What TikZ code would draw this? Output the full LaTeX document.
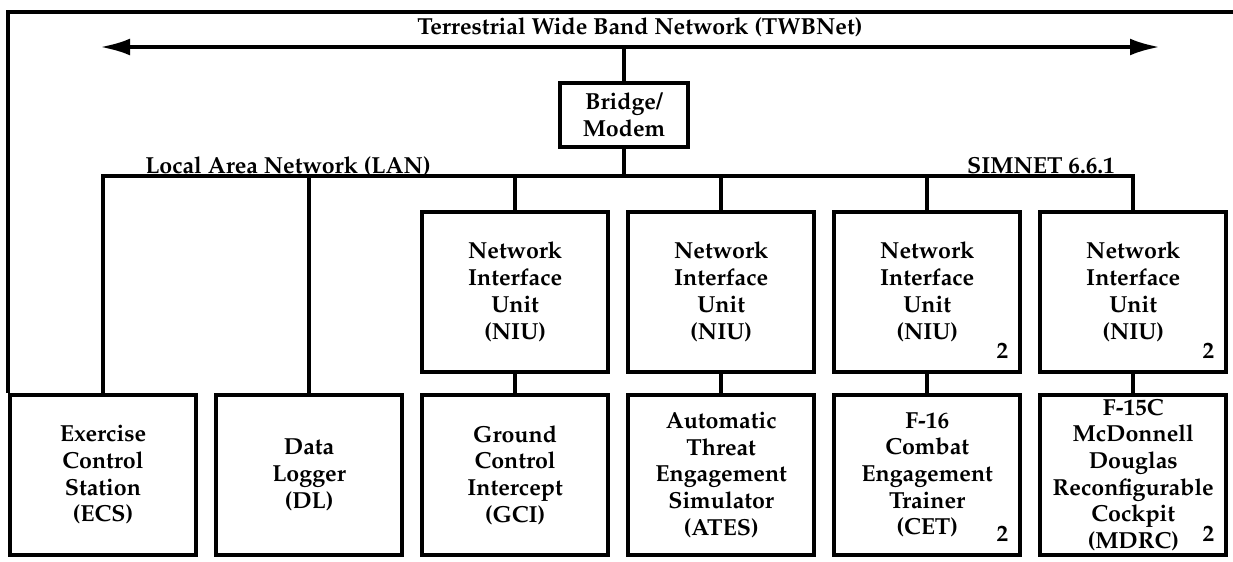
\documentclass[tikz,border=0pt]{standalone}
\usepackage[T1]{fontenc}
\usepackage{mathpazo}
\usetikzlibrary{arrows.meta,positioning}

\begin{document}
\begin{tikzpicture}[x=0.025cm, y=-0.025cm, node distance={51.5mm}, line width=2.8pt,
    main/.style = {draw, rectangle, minimum width=46.5mm, minimum height=40mm, inner sep=0pt, align=center, font=\fontsize{16.5}{19}\selectfont\bfseries},
    lbl/.style = {inner sep=0pt, font=\fontsize{16.5}{19}\selectfont\bfseries}]
        \useasboundingbox (0,0) rectangle (1233,561);
        \node[main] (ECS) at (103,475) {Exercise\\Control\\Station\\(ECS)};
        \node[main] (DL) [right of=ECS] {Data\\Logger\\(DL)};
        \node[main] (GCI) [right of=DL] {Ground\\Control\\Intercept\\(GCI)};
        \node[main] (ATES) [right of=GCI] {Automatic\\Threat\\Engagement\\Simulator\\(ATES)};
        \node[main] (CET) [right of=ATES] {F-16\\Combat\\Engagement\\Trainer\\(CET)};
        \node[main] (MDRC) [right of=CET] {F-15C\\McDonnell\\Douglas\\Reconfigurable\\Cockpit\\(MDRC)};
        \node[main] (NIU1) [above of=GCI, node distance=45.75mm] {Network\\Interface\\Unit\\(NIU)};
        \node[main] (NIU2) [above of=ATES, node distance=45.75mm] {Network\\Interface\\Unit\\(NIU)};
        \node[main] (NIU3) [above of=CET, node distance=45.75mm] {Network\\Interface\\Unit\\(NIU)};
        \node[main] (NIU4) [above of=MDRC, node distance=45.75mm] {Network\\Interface\\Unit\\(NIU)};
        \node[main, minimum width=32mm, minimum height=16mm] (BM) at (624,115) {Bridge/\\Modem};
        % counts
        \node[lbl, above left=3.2mm and 3mm of NIU3.south east] (n3) {2};
        \node[lbl, above left=3.2mm and 3mm of NIU4.south east] (n4) {2};
        \node[lbl, above left=3.2mm and 3mm of CET.south east] (n5) {2};
        \node[lbl, above left=3.2mm and 3mm of MDRC.south east] (n6) {2};
        % frame and networks
        \coordinate (frameR) at (1233,12);
        \coordinate (twbL) at (100,47);
        \coordinate (twbR) at (1160,47);
        \coordinate (lan) at (0,176);
        \draw (frameR) -- (frameR -| ECS.west) -- (ECS.north west);
        \draw[{Latex[length=7.5mm, width=4.2mm]}-{Latex[length=7.5mm, width=4.2mm]}] (twbL) -- (twbR);
        \node[lbl, anchor=base] (twb) at (640,34) {Terrestrial Wide Band Network (TWBNet)};
        \node[lbl, anchor=base] (lanlbl) at (288,173) {Local Area Network (LAN)};
        \node[lbl, anchor=base] (sim) at (1041,173) {SIMNET 6.6.1};
        \draw (BM.north) -- (BM.north |- twbL);
        \draw (BM.south) -- (BM.south |- lan);
        \draw (ECS.north) -- (ECS.north |- lan) -| (NIU4.north);
        \foreach \n in {DL,NIU1,NIU2,NIU3}
            \draw (\n.north) -- (\n.north |- lan);
        \draw (NIU1) -- (GCI);
        \draw (NIU2) -- (ATES);
        \draw (NIU3) -- (CET);
        \draw (NIU4) -- (MDRC);
    \end{tikzpicture}
\end{document}
